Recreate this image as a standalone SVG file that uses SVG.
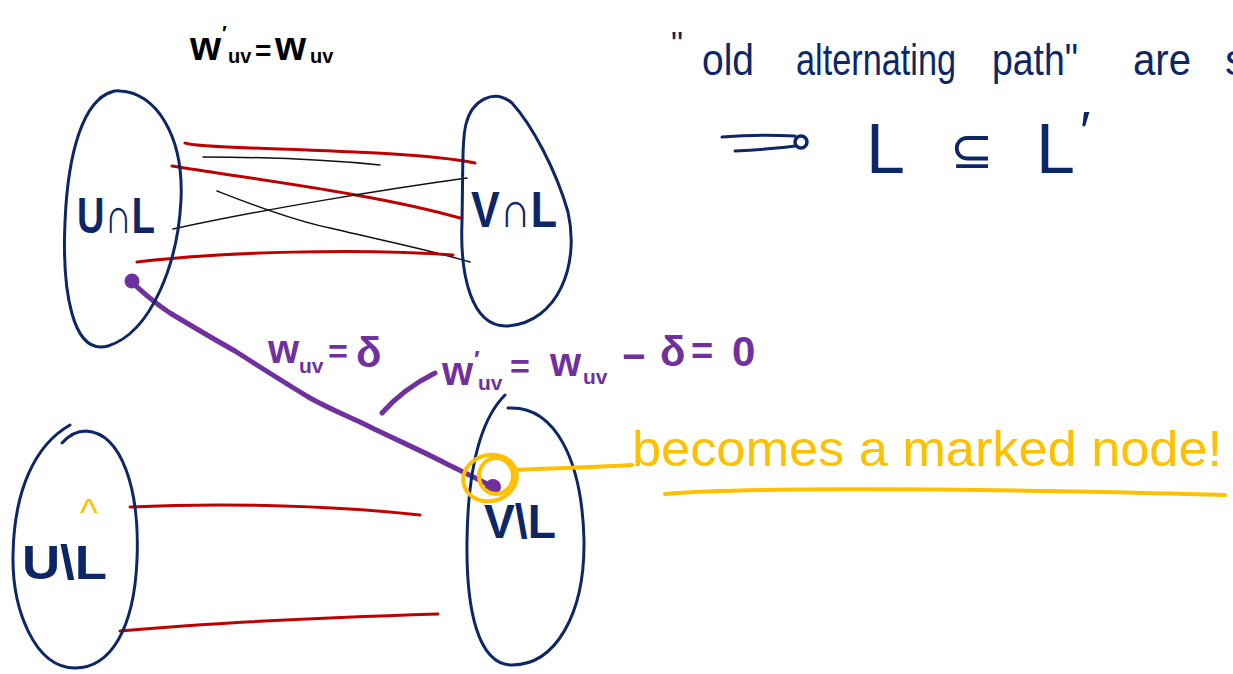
<svg xmlns="http://www.w3.org/2000/svg" width="1233" height="674" viewBox="0 0 1233 674">
<style>
.set{fill:none;stroke:#0d2766;stroke-width:3;stroke-linecap:round;stroke-linejoin:round}
.red{fill:none;stroke:#c00000;stroke-width:3;stroke-linecap:round}
.blk{fill:none;stroke:#111;stroke-width:1.5;stroke-linecap:round}
.pur{fill:none;stroke:#7030a0;stroke-width:5;stroke-linecap:round;stroke-linejoin:round}
.yel{fill:none;stroke:#ffc000;stroke-width:4;stroke-linecap:round}
.lbl{font-family:"Liberation Sans",Arial,sans-serif;fill:#0d2766}
.bl{font-weight:bold}
.ptx{font-family:"Liberation Sans",Arial,sans-serif;fill:#7030a0;font-weight:bold}
.ytx{font-family:"Liberation Sans",Arial,sans-serif;fill:#ffc000}
.ktx{font-family:"Liberation Sans",Arial,sans-serif;fill:#000;font-weight:bold}
</style>
<rect width="1233" height="674" fill="#fff"/>

<g id="connectors">
  <path class="red" d="M185 143 C200 150,400 148,475 163"/>
  <path class="blk" d="M203 157 C260 157,330 160,380 165"/>
  <path class="red" d="M172 166 C260 180,380 195,460 218"/>
  <path class="blk" d="M173 229 C260 210,380 190,467 178"/>
  <path class="blk" d="M217 191 C240 200,290 220,330 228 C380 240,430 250,470 262"/>
  <path class="red" d="M137 262 C220 252,360 248,453 255"/>
  <path class="red" d="M130 507 C220 503,330 505,420 515"/>
  <path class="red" d="M120 631 C220 622,340 617,438 614"/>
  <path class="pur" d="M132 282 C140 290,155 303,170 313 C190 325,210 337,235 351 C260 367,285 383,310 398 C330 409,345 415,360 422 C390 437,420 450,445 463 C465 473,480 480,493 487"/>
  <circle cx="132" cy="281" r="7.5" fill="#7030a0"/>
  <circle cx="493" cy="487" r="8" fill="#7030a0"/>
  <path class="pur" d="M382 413 C395 398,415 383,435 373" stroke-width="4"/>
</g>

<g id="node-UcapL">
  <path class="set" d="M100 98 C108 92,114 90,120 91 C155 92,184 135,181 200 C178 262,152 332,108 346 C72 356,62 290,65 222 C68 150,84 100,112 92"/>
  <text class="lbl bl" x="77" y="233" font-size="50" textLength="78" lengthAdjust="spacingAndGlyphs">U∩L</text>
</g>

<g id="node-VcapL">
  <path class="set" d="M466 124 C472 100,494 88,512 103 C532 125,556 170,568 212 C580 265,558 322,508 326 C470 328,460 272,462 222 C463 170,462 140,466 124"/>
  <text class="lbl bl" x="471" y="227" font-size="50" textLength="86" lengthAdjust="spacingAndGlyphs">V∩L</text>
</g>

<g id="node-UminusL">
  <path class="set" d="M62 443 C70 434,78 431,86 431 C122 433,140 490,137 560 C134 630,110 668,75 668 C35 668,12 610,13 555 C14 490,35 445,70 425"/>
  <text class="lbl bl" x="22" y="579" font-size="48" textLength="85" lengthAdjust="spacingAndGlyphs">U\L</text>
  <text class="ytx" x="80" y="526" font-size="38">^</text>
</g>

<g id="node-VminusL">
  <path class="set" d="M508 408 C555 405,582 460,584 540 C585 615,555 665,512 665 C478 665,466 610,467 540 C468 470,480 420,505 395"/>
  <text class="lbl bl" x="484" y="538" font-size="48" textLength="72" lengthAdjust="spacingAndGlyphs">V\L</text>
</g>

<g id="marked-node">
  <ellipse class="yel" cx="490" cy="478" rx="27" ry="23" transform="rotate(-15 490 478)"/>
  <ellipse class="yel" cx="496" cy="476" rx="17" ry="18" stroke-width="3"/>
  <path class="yel" d="M516 470 C560 468,600 467,632 465"/>
  <text class="ytx" x="632" y="466" font-size="50" textLength="590" lengthAdjust="spacingAndGlyphs">becomes a marked node!</text>
  <path class="yel" d="M665 494 C720 489,900 486,1225 495"/>
</g>

<g id="label-top">
  <text class="ktx" x="190" y="60" font-size="40">w</text>
  <text class="ktx" x="222" y="40" font-size="20">′</text>
  <text class="ktx" x="228" y="63" font-size="20">uv</text>
  <text class="ktx" x="255" y="60" font-size="28">=</text>
  <text class="ktx" x="275" y="60" font-size="40">w</text>
  <text class="ktx" x="310" y="63" font-size="20">uv</text>
</g>

<g id="label-delta">
  <text class="ptx" x="268" y="363" font-size="40">w</text>
  <text class="ptx" x="299" y="373" font-size="21">uv</text>
  <text class="ptx" x="328" y="363" font-size="34">=</text>
  <text class="ptx" x="356" y="367" font-size="42">δ</text>
</g>

<g id="label-wprime">
  <text class="ptx" x="442" y="385" font-size="40">w</text>
  <text class="ptx" x="474" y="368" font-size="24">′</text>
  <text class="ptx" x="478" y="390" font-size="21">uv</text>
  <text class="ptx" x="510" y="378" font-size="34">=</text>
  <text class="ptx" x="550" y="376" font-size="40">w</text>
  <text class="ptx" x="583" y="384" font-size="21">uv</text>
  <text class="ptx" x="622" y="370" font-size="40">−</text>
  <text class="ptx" x="660" y="366" font-size="42">δ</text>
  <text class="ptx" x="691" y="364" font-size="38">=</text>
  <text class="ptx" x="732" y="366" font-size="42">0</text>
</g>

<g id="note">
  <text class="lbl" x="671" y="55" font-size="34">"</text>
  <text class="lbl" x="702" y="75" font-size="44" textLength="52" lengthAdjust="spacingAndGlyphs">old</text>
  <text class="lbl" x="796" y="75" font-size="44" textLength="160" lengthAdjust="spacingAndGlyphs">alternating</text>
  <text class="lbl" x="992" y="75" font-size="44" textLength="86" lengthAdjust="spacingAndGlyphs">path"</text>
  <text class="lbl" x="1133" y="75" font-size="44" textLength="58" lengthAdjust="spacingAndGlyphs">are</text>
  <text class="lbl" x="1225" y="75" font-size="44">s</text>
  <path class="set" d="M722 137 C745 135,775 135,795 136 M735 151 C755 150,780 148,795 146" stroke-width="4"/>
  <circle cx="801" cy="142" r="6" fill="none" stroke="#0d2766" stroke-width="3.5"/>
  <text class="lbl" x="866" y="173" font-size="70">L</text>
  <text class="lbl" x="950" y="168" font-size="52">⊆</text>
  <text class="lbl" x="1036" y="173" font-size="70">L</text>
  <text class="lbl" x="1080" y="150" font-size="56">′</text>
</g>
</svg>
